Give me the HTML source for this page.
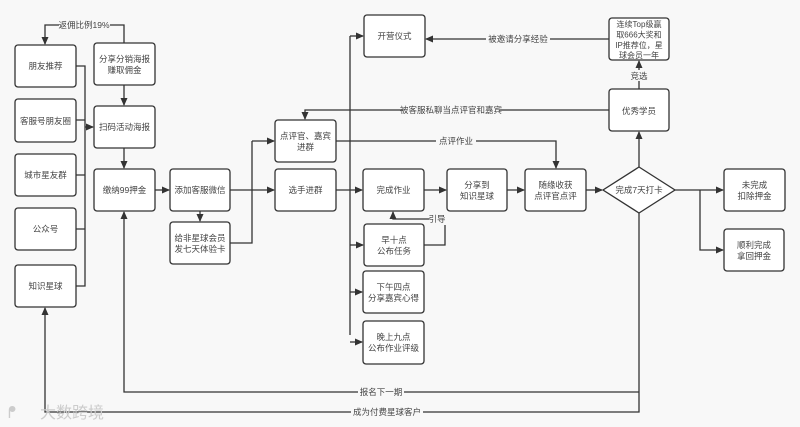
<!DOCTYPE html>
<html><head><meta charset="utf-8"><style>
html,body{margin:0;padding:0;background:#f8f8f8;}
svg{display:block;font-family:"Liberation Sans","Noto Sans CJK SC",sans-serif;}
</style></head><body>
<svg width="800" height="427" viewBox="0 0 800 427" xmlns="http://www.w3.org/2000/svg">
<defs><marker id="a" markerWidth="8" markerHeight="8" refX="7" refY="4" orient="auto" markerUnits="userSpaceOnUse"><path d="M0,0.5 L8,4 L0,7.5z" fill="#333"/></marker></defs>
<rect width="800" height="427" fill="#f8f8f8"/>
<g fill="#fff" stroke="#333" stroke-width="1.3">
<rect x="15" y="45" width="61" height="42" rx="3"/>
<rect x="15" y="99" width="61" height="43" rx="3"/>
<rect x="15" y="154" width="61" height="42" rx="3"/>
<rect x="15" y="208" width="61" height="42" rx="3"/>
<rect x="15" y="265" width="61" height="42" rx="3"/>
<rect x="94" y="43" width="61" height="42" rx="3"/>
<rect x="94" y="106" width="61" height="42" rx="3"/>
<rect x="94" y="169" width="61" height="42" rx="3"/>
<rect x="170" y="169" width="60" height="42" rx="3"/>
<rect x="170" y="222" width="60" height="42" rx="3"/>
<rect x="275" y="120" width="61" height="42" rx="3"/>
<rect x="275" y="169" width="61" height="42" rx="3"/>
<rect x="364" y="15" width="61" height="42" rx="3"/>
<rect x="363" y="169" width="61" height="42" rx="3"/>
<rect x="364" y="224" width="60" height="42" rx="3"/>
<rect x="363" y="271" width="61" height="42" rx="3"/>
<rect x="363" y="321" width="61" height="43" rx="3"/>
<rect x="447" y="169" width="60" height="42" rx="3"/>
<rect x="525" y="169" width="61" height="42" rx="3"/>
<rect x="609" y="18" width="60" height="42" rx="3"/>
<rect x="609" y="89" width="60" height="42" rx="3"/>
<rect x="724" y="169" width="61" height="42" rx="3"/>
<rect x="724" y="229" width="60" height="42" rx="3"/>
<path d="M639,167 L675,190 L639,213 L603,190z"/>
</g>
<g fill="none" stroke="#333" stroke-width="1.3">
<path d="M124,43 V25 H45 V44" marker-end="url(#a)"/>
<path d="M76,66 H85 V286 H76 M76,120 H85 M76,175 H85 M76,229 H85"/>
<path d="M85,127 H93" marker-end="url(#a)"/>
<path d="M124,85 V105" marker-end="url(#a)"/>
<path d="M124,148 V168" marker-end="url(#a)"/>
<path d="M155,190 H169" marker-end="url(#a)"/>
<path d="M200,211 V221" marker-end="url(#a)"/>
<path d="M230,190 H252 M230,243 H252 V141"/>
<path d="M252,141 H274" marker-end="url(#a)"/>
<path d="M252,190 H274" marker-end="url(#a)"/>
<path d="M336,190 H362" marker-end="url(#a)"/>
<path d="M350,335 V36"/>
<path d="M350,36 H363" marker-end="url(#a)"/>
<path d="M350,245 H363" marker-end="url(#a)"/>
<path d="M350,292 H362" marker-end="url(#a)"/>
<path d="M350,342 H362" marker-end="url(#a)"/>
<path d="M424,190 H446" marker-end="url(#a)"/>
<path d="M507,190 H524" marker-end="url(#a)"/>
<path d="M586,190 H602" marker-end="url(#a)"/>
<path d="M424,245 H445 V219 H393 V212" marker-end="url(#a)"/>
<path d="M336,141 H556 V168" marker-end="url(#a)"/>
<path d="M609,110 H305 V119" marker-end="url(#a)"/>
<path d="M609,39 H426" marker-end="url(#a)"/>
<path d="M639,89 V61" marker-end="url(#a)"/>
<path d="M639,167 V132" marker-end="url(#a)"/>
<path d="M675,190 H723" marker-end="url(#a)"/>
<path d="M700,190 V250 H723" marker-end="url(#a)"/>
<path d="M639,213 V412 H45 V308" marker-end="url(#a)"/>
<path d="M639,392 H124 V212" marker-end="url(#a)"/>
</g>
<g fill="#f8f8f8">
<rect x="59" y="19" width="51" height="11"/>
<rect x="429" y="215" width="17" height="10"/>
<rect x="436" y="136" width="40" height="10"/>
<rect x="403" y="105" width="96" height="10"/>
<rect x="486" y="34" width="64" height="10"/>
<rect x="628" y="70" width="22" height="11"/>
<rect x="358" y="387" width="46" height="10"/>
<rect x="351" y="407" width="72" height="10"/>
</g>
<g font-size="8.5" fill="#444" text-anchor="middle">
<text x="84" y="28">返佣比例19%</text>
<text x="45.5" y="69">朋友推荐</text>
<text x="45.5" y="124">客服号朋友圈</text>
<text x="45.5" y="178">城市星友群</text>
<text x="45.5" y="232">公众号</text>
<text x="45.5" y="289">知识星球</text>
<text x="124.5" y="62">分享分销海报</text>
<text x="124.5" y="73">赚取佣金</text>
<text x="124.5" y="130">扫码活动海报</text>
<text x="124.5" y="193">缴纳99押金</text>
<text x="200" y="193">添加客服微信</text>
<text x="200" y="241">给非星球会员</text>
<text x="200" y="252">发七天体验卡</text>
<text x="305.5" y="139">点评官、嘉宾</text>
<text x="305.5" y="150">进群</text>
<text x="305.5" y="193">选手进群</text>
<text x="394.5" y="39">开营仪式</text>
<text x="393.5" y="193">完成作业</text>
<text x="394" y="243">早十点</text>
<text x="394" y="254">公布任务</text>
<text x="393.5" y="290">下午四点</text>
<text x="393.5" y="301">分享嘉宾心得</text>
<text x="393.5" y="340">晚上九点</text>
<text x="393.5" y="351">公布作业评级</text>
<text x="477" y="188">分享到</text>
<text x="477" y="199">知识星球</text>
<text x="555.5" y="188">随缘收获</text>
<text x="555.5" y="199">点评官点评</text>
<g font-size="8">
<text x="639" y="27">连续Top级赢</text>
<text x="639" y="37.5">取666大奖和</text>
<text x="639" y="48">IP推荐位，星</text>
<text x="639" y="58">球会员一年</text>
</g>
<text x="639" y="114">优秀学员</text>
<text x="639" y="193">完成7天打卡</text>
<text x="754.5" y="188">未完成</text>
<text x="754.5" y="199">扣除押金</text>
<text x="754" y="248">顺利完成</text>
<text x="754" y="259">拿回押金</text>
<text x="437" y="222">引导</text>
<text x="456" y="144">点评作业</text>
<text x="451" y="113">被客服私聊当点评官和嘉宾</text>
<text x="518" y="42">被邀请分享经验</text>
<text x="639" y="79">竞选</text>
<text x="381" y="395">报名下一期</text>
<text x="387" y="415">成为付费星球客户</text>
</g>
<text x="40" y="418" font-size="16" fill="#ccc" font-family="Liberation Sans,Noto Sans CJK SC,sans-serif">大数跨境</text>
<text x="8" y="418" font-size="16" fill="#ccc">ᖰ</text>
</svg>
</body></html>
